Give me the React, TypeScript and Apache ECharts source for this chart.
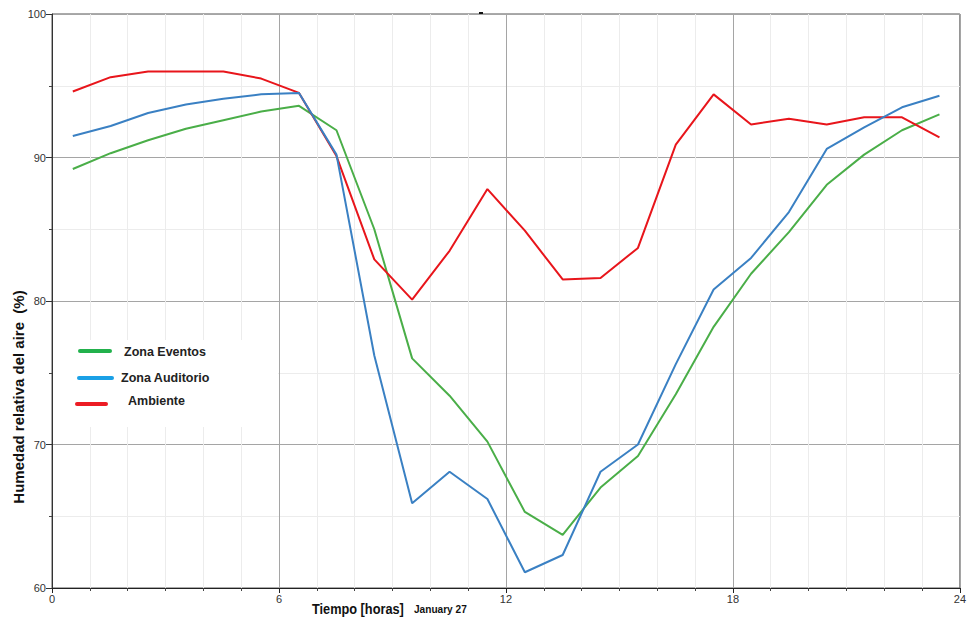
import React, { useEffect, useRef } from "react";
import * as echarts from "echarts";

const times = [0.55, 1.55, 2.54, 3.54, 4.53, 5.53, 6.53, 7.52, 8.52, 9.52, 10.51, 11.51, 12.5, 13.5, 14.5, 15.49, 16.49, 17.49, 18.48, 19.48, 20.48, 21.47, 22.47, 23.46];
const zonaEventos = [89.2, 90.3, 91.2, 92.0, 92.6, 93.2, 93.6, 91.9, 85.0, 76.0, 73.4, 70.2, 65.3, 63.7, 67.0, 69.2, 73.5, 78.2, 81.9, 84.8, 88.1, 90.2, 91.9, 93.0];
const zonaAuditorio = [91.5, 92.2, 93.1, 93.7, 94.1, 94.4, 94.5, 90.2, 76.2, 65.9, 68.1, 66.2, 61.1, 62.3, 68.1, 70.0, 75.6, 80.8, 83.0, 86.2, 90.6, 92.1, 93.5, 94.3];
const ambiente = [94.6, 95.6, 96.0, 96.0, 96.0, 95.5, 94.5, 90.1, 82.9, 80.1, 83.5, 87.8, 84.9, 81.5, 81.6, 83.7, 90.9, 94.4, 92.3, 92.7, 92.3, 92.8, 92.8, 91.4];

const legendItems = ["Zona Eventos", "Zona Auditorio", "Ambiente"];
const legendColors = ["#22b14c", "#1aa0e6", "#ec1c24"];
const seriesColors = ["#4aae48", "#3a80c3", "#e8151b"];

export default function App() {
  const ref = useRef<HTMLDivElement>(null);
  useEffect(() => {
    if (!ref.current) return;
    const chart = echarts.init(ref.current, null, { renderer: "svg" });
    const font = "Liberation Sans, Arial, sans-serif";
    const mk = (arr: number[]) => times.map((t, i) => [t, arr[i]]);
    const seriesData = [zonaEventos, zonaAuditorio, ambiente];
    chart.setOption({
      animation: false,
      backgroundColor: "#ffffff",
      grid: {
        left: 52,
        right: 7,
        top: 14,
        bottom: 32,
        show: true,
        borderColor: "#555555",
        borderWidth: 1,
        backgroundColor: "transparent",
      },
      xAxis: {
        type: "value",
        min: 0,
        max: 24,
        interval: 6,
        axisLine: { show: true, onZero: false, lineStyle: { color: "#222", width: 1 } },
        axisTick: { show: true, length: 5, lineStyle: { color: "#222" } },
        minorTick: { show: true, splitNumber: 6, length: 3, lineStyle: { color: "#444" } },
        splitLine: { show: true, lineStyle: { color: "#a5a5a5", width: 1 } },
        minorSplitLine: { show: true, lineStyle: { color: "#ececec", width: 1 } },
        axisLabel: { color: "#333", fontSize: 11, fontFamily: font, margin: 5 },
      },
      yAxis: {
        type: "value",
        min: 60,
        max: 100,
        interval: 10,
        axisLine: { show: true, onZero: false, lineStyle: { color: "#333", width: 1 } },
        axisTick: { show: true, length: 6, lineStyle: { color: "#333" } },
        minorTick: { show: true, splitNumber: 2, length: 3, lineStyle: { color: "#444" } },
        splitLine: { show: true, lineStyle: { color: "#a5a5a5", width: 1 } },
        minorSplitLine: { show: true, lineStyle: { color: "#ececec", width: 1 } },
        axisLabel: { color: "#333", fontSize: 11, fontFamily: font, margin: 6 },
      },
      series: seriesData.map((arr, i) => ({
        name: legendItems[i],
        type: "line",
        data: mk(arr),
        showSymbol: false,
        symbol: "none",
        lineStyle: { color: seriesColors[i], width: 2 },
        itemStyle: { color: seriesColors[i] },
        z: i === 1 ? 4 : 3,
      })),
      graphic: [
        {
          type: "rect",
          z: 100,
          shape: { x: 53, y: 340, width: 225, height: 87 },
          style: { fill: "#ffffff" },
        },
        {
          type: "line",
          z: 101,
          shape: { x1: 80, y1: 351, x2: 110, y2: 351 },
          style: { stroke: legendColors[0], lineWidth: 4, lineCap: "round" },
        },
        {
          type: "line",
          z: 101,
          shape: { x1: 79, y1: 378, x2: 112, y2: 378 },
          style: { stroke: legendColors[1], lineWidth: 4, lineCap: "round" },
        },
        {
          type: "line",
          z: 101,
          shape: { x1: 77, y1: 404, x2: 106, y2: 404 },
          style: { stroke: legendColors[2], lineWidth: 4, lineCap: "round" },
        },
        {
          type: "text",
          z: 101,
          x: 124,
          y: 352,
          style: { text: legendItems[0], fill: "#222", font: `bold 12.5px ${font}`, textVerticalAlign: "middle" },
        },
        {
          type: "text",
          z: 101,
          x: 121,
          y: 378,
          style: { text: legendItems[1], fill: "#222", font: `bold 12.5px ${font}`, textVerticalAlign: "middle" },
        },
        {
          type: "text",
          z: 101,
          x: 128,
          y: 401,
          style: { text: legendItems[2], fill: "#222", font: `bold 12.5px ${font}`, textVerticalAlign: "middle" },
        },
        {
          type: "text",
          z: 101,
          x: 18,
          y: 397,
          rotation: Math.PI / 2,
          style: {
            text: "Humedad relativa del aire  (%)",
            fill: "#111",
            font: `bold 15px ${font}`,
            textAlign: "center",
            textVerticalAlign: "middle",
          },
        },
        {
          type: "text",
          z: 101,
          x: 312,
          y: 609,
          scaleX: 0.88,
          style: { text: "Tiempo [horas]", fill: "#111", font: `bold 14.5px ${font}`, textVerticalAlign: "middle" },
        },
        {
          type: "text",
          z: 101,
          x: 414,
          y: 609,
          scaleX: 0.92,
          style: { text: "January 27", fill: "#111", font: `bold 11px ${font}`, textVerticalAlign: "middle" },
        },
        {
          type: "rect",
          z: 101,
          shape: { x: 479, y: 12, width: 4, height: 2 },
          style: { fill: "#111" },
        },
      ],
    });
    return () => chart.dispose();
  }, []);
  return (
    <div
      ref={ref}
      style={{ position: "fixed", left: 0, top: 0, width: 969, height: 620 }}
    />
  );
}
